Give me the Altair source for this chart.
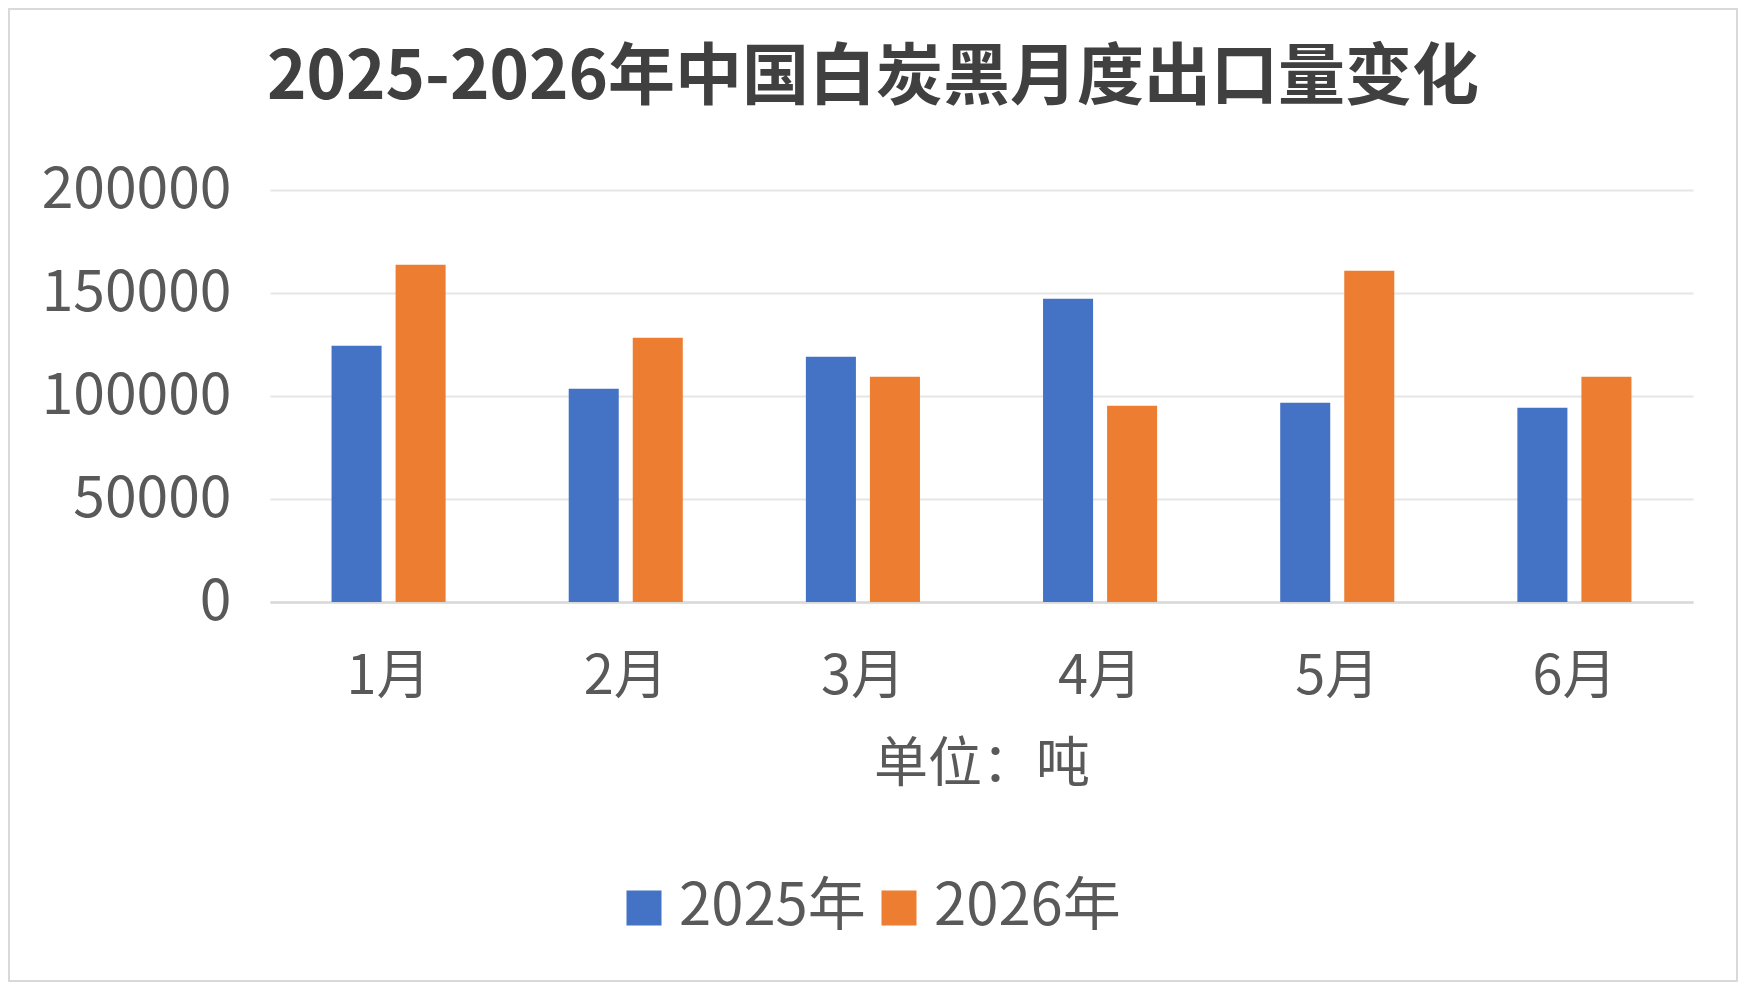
import altair as alt
import pandas as pd

months = ["1月", "2月", "3月", "4月", "5月", "6月"]
series = ["2025年", "2026年"]
values_2025 = [124400, 103500, 119100, 147200, 96700, 94300]
values_2026 = [163700, 128300, 109400, 95300, 160800, 109400]
y_ticks = [0, 50000, 100000, 150000, 200000]
title_text = "2025-2026年中国白炭黑月度出口量变化"
unit_text = "单位：吨"
colors = ["#4472C4", "#ED7D31"]

rows = []
for m, a, b in zip(months, values_2025, values_2026):
    rows.append({"月份": m, "年份": series[0], "出口量": a})
    rows.append({"月份": m, "年份": series[1], "出口量": b})
df = pd.DataFrame(rows)

W, H = 1423, 412
PL, PT, PR, PB = 262, 182, 45, 380
FONT = "Noto Sans CJK SC"
TXT = "#595959"

bars = alt.Chart(df).mark_bar().encode(
    x=alt.X(
        "月份:N", sort=months,
        scale=alt.Scale(paddingInner=0.519, paddingOuter=0.2595),
        axis=alt.Axis(
            title=unit_text, labelAngle=0, labelFontSize=54, labelColor=TXT,
            labelFont=FONT, labelPadding=48, ticks=False, tickSize=0,
            domain=True, domainColor="#d9d9d9", domainWidth=2.5,
            titleFontSize=54, titleFont=FONT, titleColor=TXT,
            titleFontWeight="normal", titlePadding=34, grid=False,
        ),
    ),
    xOffset=alt.XOffset("年份:N", sort=series,
                        scale=alt.Scale(paddingInner=0.21875, paddingOuter=0)),
    y=alt.Y(
        "出口量:Q",
        scale=alt.Scale(domain=[0, 200000], nice=False),
        axis=alt.Axis(
            title=None, values=y_ticks, format="d", labelFontSize=57,
            labelColor=TXT, labelFont=FONT, labelPadding=39, labelLimit=0,
            ticks=False, tickSize=0, domain=False, gridColor="#e6e6e6",
            gridWidth=2,
        ),
    ),
    color=alt.Color(
        "年份:N", sort=series,
        scale=alt.Scale(domain=series, range=colors),
        legend=alt.Legend(
            title=None, orient="none", legendX=345, legendY=689,
            direction="horizontal", symbolType="square", symbolSize=1225,
            symbolStrokeWidth=0, labelFontSize=58, labelFont=FONT,
            labelColor=TXT, labelOffset=6, labelLimit=0, columnPadding=4,
            padding=0,
        ),
    ),
)

title_df = pd.DataFrame({"t": [title_text]})
title = alt.Chart(title_df).mark_text(
    font=FONT, fontSize=67, fontWeight="bold", color="#404040",
    align="center", baseline="alphabetic",
).encode(text="t:N", x=alt.value(603), y=alt.value(-91))

border = alt.Chart(title_df).mark_rect(
    filled=False, stroke="#d9d9d9", strokeWidth=2,
).encode(
    x=alt.value(-PL + 1), x2=alt.value(W + PR - 1),
    y=alt.value(-PT + 1), y2=alt.value(H + PB - 1),
)

chart = alt.layer(border, bars, title).properties(
    width=W, height=H,
    padding={"left": PL, "top": PT, "right": PR, "bottom": PB},
    autosize=alt.AutoSizeParams(type="none"),
    background="white",
).configure_view(stroke=None)

chart.save("out.html", embed_options={"renderer": "svg", "actions": False})
